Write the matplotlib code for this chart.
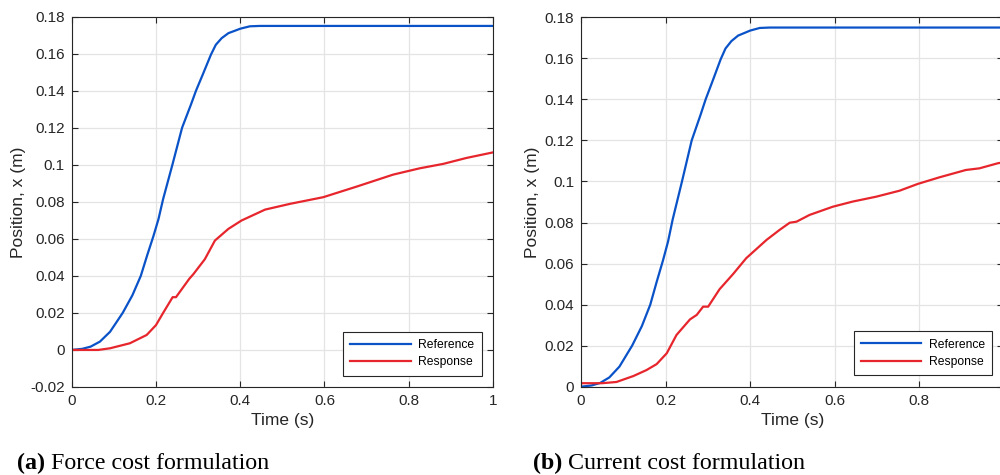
import numpy as np
import matplotlib
matplotlib.use('Agg')
import matplotlib.pyplot as plt
from matplotlib.ticker import FuncFormatter

plt.rcParams['font.family'] = ['Liberation Sans', 'DejaVu Sans']

# Reference trajectory (same in both runs)
t_ref = [0, 0.025, 0.045, 0.067, 0.091, 0.121, 0.144, 0.164, 0.179, 0.194, 0.206, 0.217,
         0.239, 0.262, 0.283, 0.295, 0.311, 0.3305, 0.342, 0.356, 0.372, 0.392, 0.4,
         0.423, 0.447, 1.0]
x_ref = [0, 0.0006, 0.0018, 0.0045, 0.0098, 0.02, 0.0295, 0.04, 0.051, 0.0615, 0.0707, 0.0815,
         0.1, 0.12, 0.1325, 0.14, 0.1487, 0.1595, 0.1648, 0.1684, 0.1711, 0.1728, 0.1735,
         0.1748, 0.175, 0.175]

# Response with force cost
t_force = [0, 0.063, 0.091, 0.138, 0.178, 0.2, 0.217, 0.2396, 0.2475, 0.279, 0.289, 0.316,
           0.34, 0.372, 0.403, 0.459, 0.518, 0.597, 0.676, 0.763, 0.826, 0.882, 0.937, 1.0]
x_force = [0, 0, 0.0009, 0.0036, 0.0081, 0.0134, 0.02, 0.0285, 0.0285, 0.0384, 0.041, 0.049,
           0.0591, 0.0654, 0.0699, 0.0758, 0.0789, 0.0825, 0.0882, 0.0947, 0.0981, 0.1005,
           0.1037, 0.1067]

# Response with current cost
t_curr = [0, 0.05, 0.084, 0.124, 0.155, 0.179, 0.203, 0.226, 0.258, 0.274, 0.289, 0.301,
          0.328, 0.36, 0.391, 0.439, 0.47, 0.494, 0.51, 0.541, 0.596, 0.643, 0.699, 0.754,
          0.797, 0.848, 0.911, 0.943, 0.987, 1.0]
x_curr = [0.0017, 0.0017, 0.0023, 0.0052, 0.0081, 0.011, 0.0163, 0.0252, 0.0328, 0.035,
          0.039, 0.039, 0.0475, 0.0549, 0.0626, 0.0715, 0.0764, 0.0799, 0.0804, 0.0837,
          0.0877, 0.0902, 0.0926, 0.0955, 0.0988, 0.102, 0.1056, 0.1064, 0.1089, 0.1093]

blue = '#0a52c8'
red = '#e6262c'
dark = '#262626'

fig = plt.figure(figsize=(10, 4.75), dpi=100)
ax1 = fig.add_axes([0.0717, 0.1853, 0.4213, 0.7796])
ax2 = fig.add_axes([0.581, 0.1859, 0.4225, 0.7777])


def style(ax, ylim, yticks):
    ax.set_xlim(0, 1)
    ax.set_ylim(*ylim)
    ax.set_xticks(np.arange(0, 1.01, 0.2))
    ax.set_yticks(yticks)
    fmt = FuncFormatter(lambda v, p: '%g' % round(v, 4))
    ax.xaxis.set_major_formatter(fmt)
    ax.yaxis.set_major_formatter(fmt)
    ax.grid(True, color='#e4e4e4', linewidth=0.9)
    ax.set_axisbelow(True)
    ax.tick_params(direction='in', top=True, right=True, length=4, width=0.8,
                   colors=dark, labelsize=11, pad=5)
    for s in ax.spines.values():
        s.set_color(dark)
        s.set_linewidth(0.8)
    ax.set_xlabel('Time (s)', fontsize=12.5, color=dark, labelpad=4)
    ax.set_ylabel('Position, x (m)', fontsize=12.5, color=dark, labelpad=3)


ax1.plot(t_ref, x_ref, color=blue, lw=1.6, label='Reference')
ax1.plot(t_force, x_force, color=red, lw=1.6, label='Response')
style(ax1, (-0.02, 0.18), np.arange(-0.02, 0.181, 0.02))

ax2.plot(t_ref, x_ref, color=blue, lw=1.6, label='Reference')
ax2.plot(t_curr, x_curr, color=red, lw=1.6, label='Response')
style(ax2, (0, 0.18), np.arange(0, 0.181, 0.02))

for ax in (ax1, ax2):
    leg = ax.legend(loc='lower right', fontsize=8.7, handlelength=5.0, handletextpad=0.6,
                    borderpad=0.6, labelspacing=0.45, borderaxespad=0.95,
                    fancybox=False, framealpha=1)
    leg.get_frame().set_edgecolor(dark)
    leg.get_frame().set_linewidth(0.8)

# sub-figure captions
serif = ['Liberation Serif', 'DejaVu Serif']
for x0, tag, rest in [(0.017, '(a)', ' Force cost formulation'),
                      (0.533, '(b)', ' Current cost formulation')]:
    t1 = fig.text(x0, 0.0126, tag, fontsize=17.3, fontweight='bold', family=serif,
                  va='baseline', color='black')
    plt.annotate(rest, xy=(1, 0), xycoords=t1, va='bottom', ha='left',
                 fontsize=17.3, family=serif, color='black', annotation_clip=False)

fig.savefig('out.png', dpi=100)
